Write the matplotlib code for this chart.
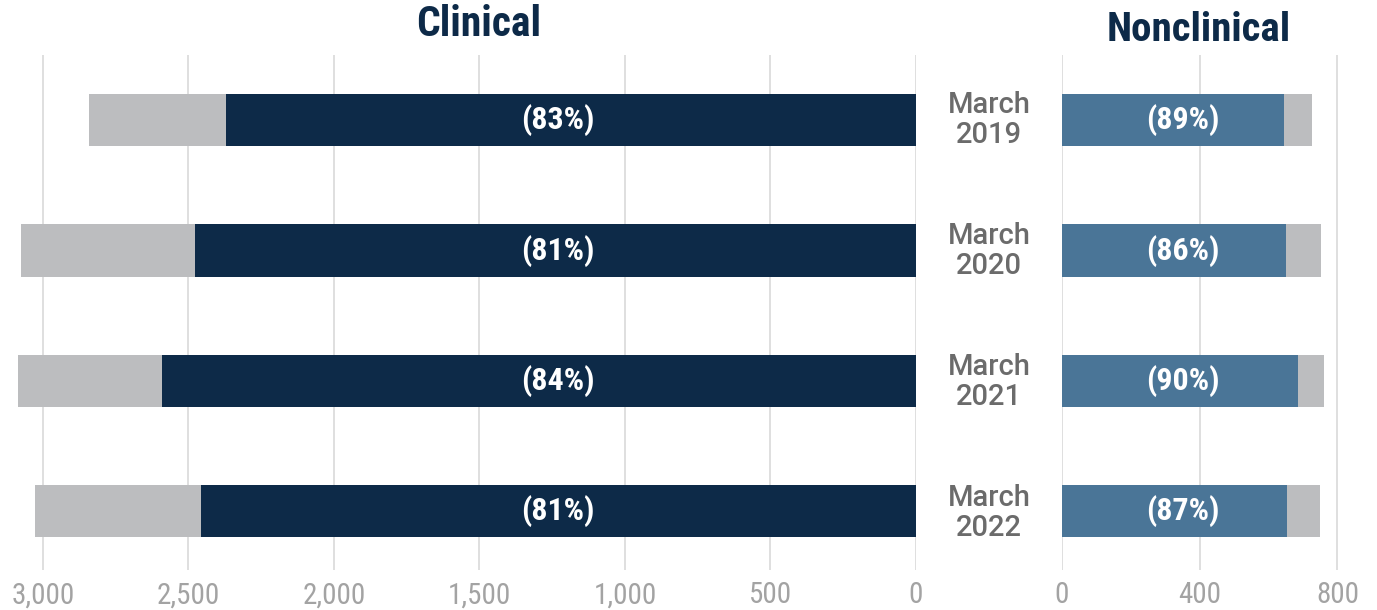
import matplotlib.pyplot as plt
from matplotlib.ticker import FuncFormatter

years = ["March\n2019", "March\n2020", "March\n2021", "March\n2022"]
clin_total = [2842, 3076, 3086, 3027]
clin_part = [2371, 2478, 2591, 2457]
clin_pct = ["(83%)", "(81%)", "(84%)", "(81%)"]
nonclin_total = [727, 753, 762, 750]
nonclin_part = [646, 651, 686, 654]
nonclin_pct = ["(89%)", "(86%)", "(90%)", "(87%)"]

navy = "#0d2a48"
steel = "#4a7597"
grey = "#bcbdbf"
tick_grey = "#a3a3a3"
label_grey = "#6b6b6b"
plt.rcParams["font.family"] = ["Roboto Condensed", "DejaVu Sans"]

W, H = 1377, 610
fig = plt.figure(figsize=(W / 100, H / 100), dpi=100)
bottom = 1 - 570 / H
height = (570 - 55) / H
ax1 = fig.add_axes([8 / W, bottom, (916 - 8) / W, height])
ax2 = fig.add_axes([1062 / W, bottom, (1365 - 1062) / W, height])

ypos = list(range(len(years)))
bh = 0.40

ax1.barh(ypos, clin_total, height=bh, color=grey, zorder=2)
ax1.barh(ypos, clin_part, height=bh, color=navy, zorder=3)
for y, t in zip(ypos, clin_pct):
    ax1.text(1230, y, t, color="white", fontsize=23, fontweight="bold",
             ha="center", va="center", zorder=4)
ax1.set_xlim(3120, 0)
ax1.set_xticks([3000, 2500, 2000, 1500, 1000, 500, 0])
ax1.xaxis.set_major_formatter(FuncFormatter(lambda v, p: f"{int(v):,}"))

ax2.barh(ypos, nonclin_total, height=bh, color=grey, zorder=2)
ax2.barh(ypos, nonclin_part, height=bh, color=steel, zorder=3)
for y, t in zip(ypos, nonclin_pct):
    ax2.text(352, y, t, color="white", fontsize=23, fontweight="bold",
             ha="center", va="center", zorder=4)
ax2.set_xlim(0, 880)
ax2.set_xticks([0, 400, 800])

for ax in (ax1, ax2):
    ax.set_ylim(3.45, -0.5)
    ax.set_yticks([])
    for s in ax.spines.values():
        s.set_visible(False)
    ax.grid(axis="x", color="#d9d9d9", linewidth=1.2, zorder=0)
    ax.tick_params(axis="x", length=0, pad=8, labelsize=21, labelcolor=tick_grey)
    ax.set_axisbelow(True)

# year labels in the gap between the panels
for y, lab in zip(ypos, years):
    fig.text(989 / W, 1 - (120 + 131 * y) / H, lab, ha="center", va="center",
             fontsize=21, fontweight="medium", color=label_grey, linespacing=1.08,
             family=["Roboto", "DejaVu Sans"])

fig.text(479 / W, 1 - 25 / H, "Clinical", ha="center", va="center",
         fontsize=30, fontweight="bold", color=navy)
fig.text(1199 / W, 1 - 30 / H, "Nonclinical", ha="center", va="center",
         fontsize=29.5, fontweight="bold", color=navy)

fig.savefig("out.png", dpi=100)
